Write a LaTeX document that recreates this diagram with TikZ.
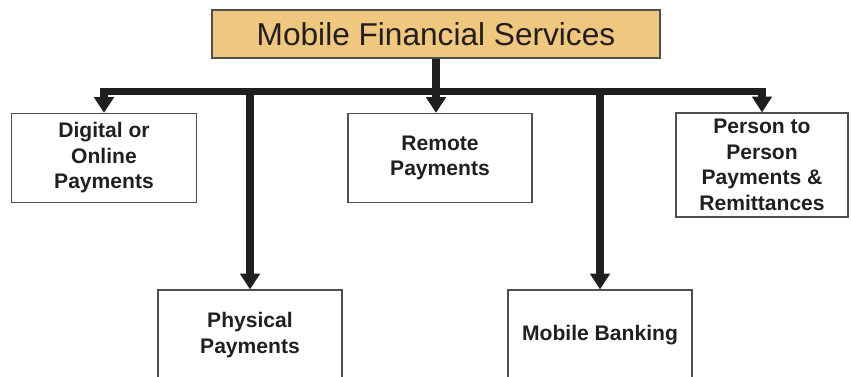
\documentclass[tikz,border=0pt]{standalone}
\usepackage{fontspec}
\setmainfont{Liberation Sans}
\usetikzlibrary{positioning}
\usetikzlibrary{arrows.meta}
\usetikzlibrary{calc}

\definecolor{mfsorange}{RGB}{240,199,126}
\definecolor{mfsline}{RGB}{32,31,29}
\definecolor{mfsborder}{RGB}{80,80,80}
\definecolor{mfstext}{RGB}{35,31,32}

\begin{document}
\begin{tikzpicture}[x=0.02cm, y=0.02cm,
	box/.style={draw=mfsborder, line width=0.7pt, align=center, text=mfstext,
		font=\fontsize{12}{14.5}\selectfont\bfseries, inner sep=0pt},
	link/.style={draw=mfsline, line width=4pt, -{Triangle[width=11pt, length=9pt]}}]
	 % Page size and clipping of the lower boxes
	 \useasboundingbox (0,0) rectangle (851,376);
	 \clip (0,0) rectangle (851,376);

	 % Title
	 \node[draw=mfsborder, line width=0.7pt, fill=mfsorange, text=mfstext,
	 	minimum width=8.96cm, minimum height=0.96cm, inner sep=0pt,
	 	font=\fontsize{18}{22}\selectfont] (mfs) at (436,342) {Mobile Financial Services};

	 % Upper row
	 \node[box, minimum width=3.7cm, minimum height=1.78cm] (digital) at (104,218) {Digital or\\Online\\Payments};
	 \node[box, minimum width=3.68cm, minimum height=1.78cm] (remote) at (440,218) {Remote\\Payments};
	 \node[box, minimum width=3.44cm, minimum height=2.08cm] (person) at (762,211) {Person to\\Person\\Payments \&\\Remittances};

	 % Lower row
	 \node[box, minimum width=3.68cm, minimum height=1.8cm] (physical) at (250,41) {Physical\\Payments};
	 \node[box, minimum width=3.68cm, minimum height=1.8cm] (banking) at (600,41) {Mobile Banking};

	 % Bar below the title
	 \coordinate (hub) at ($(mfs.south)+(0,-33)$);

	 \draw[link] (mfs.south) -- (mfs.south |- remote.north);
	 \foreach \n in {digital, physical, banking, person} {
	 	\draw[link] (hub) -| (\n.north);
	 }
\end{tikzpicture}
\end{document}
